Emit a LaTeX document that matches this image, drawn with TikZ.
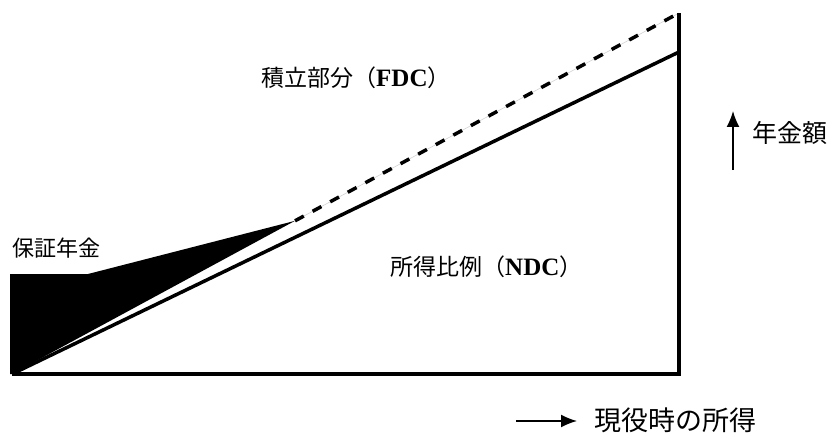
\documentclass[tikz,border=0pt]{standalone}
\usepackage{fontspec}
\newfontfamily\cjk{Noto Sans CJK JP}
\newfontfamily\lserif{Liberation Serif}
\usetikzlibrary{arrows.meta,calc}
\newcommand{\latinbold}[1]{{\lserif\bfseries\fontsize{25}{28}\selectfont #1}}
\begin{document}
\begin{tikzpicture}[x=1pt,y=-1pt,
  lbl/.style={inner sep=0pt, anchor=west, font=\cjk\fontsize{22}{26}\selectfont},
  biglbl/.style={lbl, font=\cjk\fontsize{23}{27}\selectfont},
  axisline/.style={line width=3.5pt, line join=miter},
  dashline/.style={line width=3.5pt, dash pattern=on 10pt off 10pt},
  faint/.style={gray!35, line width=0.6pt},
  arr/.style={line width=1.6pt, -{Latex[length=16pt,width=13pt]}}]
\useasboundingbox (0,0) rectangle (835,433);
\coordinate (O) at (12,374);
\coordinate (BR) at (679,374);
\coordinate (T) at (679,13);
\coordinate (S) at (679,52);
\coordinate (P) at ($(O)!0.4243!(T)$);
\coordinate (K) at (88,274);
\coordinate (L) at (10,274);
\coordinate (Ob) at (10,374);
% guaranteed pension wedge
\fill (Ob) -- (L) -- (K) -- (P) -- (O) -- cycle;
% dashed continuation
\draw[faint] (P) -- (T);
\draw[dashline] (P) -- (T);
% axes and solid line
\draw[axisline] (O) -- (BR) -- (T);
\draw[axisline] (O) -- (S);
% labels
\node[biglbl] (fdc) at (261,78) {積立部分（\latinbold{FDC}）};
\node[lbl] (hosho) at (12,248) {保証年金};
\node[biglbl] (ndc) at (390,267) {所得比例（\latinbold{NDC}）};
\node[lbl, font=\cjk\fontsize{25}{29}\selectfont] (nenkin) at (752,133) {年金額};
\node[lbl, font=\cjk\fontsize{27}{31}\selectfont] (shotoku) at (594,420) {現役時の所得};
% arrows
\coordinate (ua1) at (733,170);
\coordinate (ua2) at (733,111);
\draw[arr] (ua1) -- (ua2);
\coordinate (ra1) at (516,421);
\coordinate (ra2) at (577,421);
\draw[arr] (ra1) -- (ra2);
\end{tikzpicture}
\end{document}
